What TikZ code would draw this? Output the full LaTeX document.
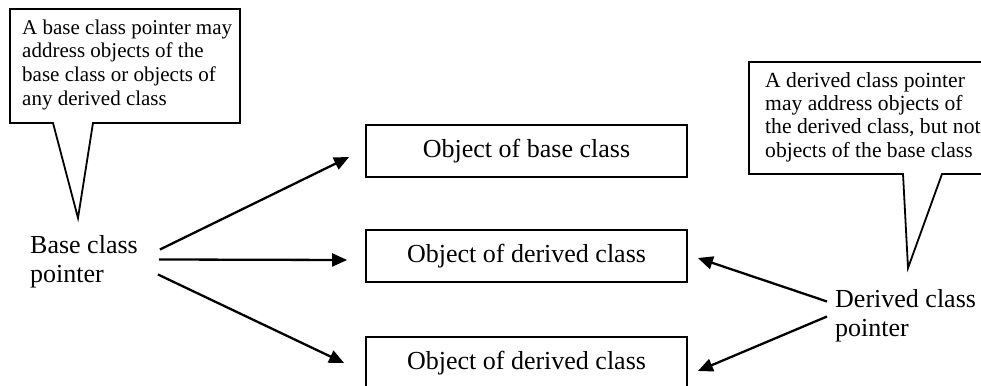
\documentclass[tikz,border=0pt]{standalone}
\usepackage{fontspec}
\setmainfont{Liberation Serif}
\usetikzlibrary{arrows.meta}

\tikzset{
  objbox/.style={draw, line width=1.8pt, minimum width=321pt, minimum height=52pt,
    inner sep=0pt, font=\fontsize{26}{30}\selectfont},
  ptrlabel/.style={align=left, inner sep=0pt, anchor=north west,
    font=\fontsize{26}{29}\selectfont},
  notetext/.style={align=left, inner sep=0pt, anchor=north west,
    font=\fontsize{21}{23.6}\selectfont},
  note/.style={line width=1.8pt, line join=miter},
  ptr/.style={line width=2.3pt, -{Triangle[length=15pt, width=13pt]}}
}

\begin{document}
\begin{tikzpicture}[x=1pt, y=-1pt]
  \useasboundingbox (0,0) rectangle (981,385);

  % objects the pointers can reach
  \node[objbox] (objbase) at (526.5,151) {Object of base class};
  \node[objbox] (objder1) at (526.5,256) {Object of derived class};
  \node[objbox] (objder2) at (526.5,363) {Object of derived class};

  % the two pointers
  \node[ptrlabel] (baseptr) at (30,235) {Base class\\pointer};
  \node[ptrlabel] (derptr) at (835,289) {Derived class\\pointer};

  \draw[ptr] ([shift={(22,-12)}]baseptr.east) -- ([shift={(-16,6)}]objbase.west);
  \draw[ptr] ([shift={(21,-2)}]baseptr.east) -- ([shift={(-18,4)}]objder1.west);
  \draw[ptr] ([shift={(20,13)}]baseptr.east) -- ([shift={(-21,0)}]objder2.west);

  \draw[ptr] ([shift={(-8,-14)}]derptr.west) -- ([shift={(10,2)}]objder1.east);
  \draw[ptr] ([shift={(-8,1)}]derptr.west) -- ([shift={(10,8)}]objder2.east);

  % callouts
  \node[notetext] (basenote) at (22,19.5) {A base class pointer may\\address objects of the\\base class or objects of\\any derived class};
  \draw[note] (10,9) -- (240,9) -- (240,123) -- (93,123) -- (78,218) -- (53,123) -- (10,123) -- cycle;

  \node[notetext, font=\fontsize{21.6}{23.4}\selectfont] (dernote) at (765,72) {A derived class pointer\\may address objects of\\the derived class, but not\\objects of the base class};
  \draw[note] (990,62) -- (749,62) -- (749,174) -- (903,174) -- (908,268) -- (942,174) -- (990,174);

\end{tikzpicture}
\end{document}
